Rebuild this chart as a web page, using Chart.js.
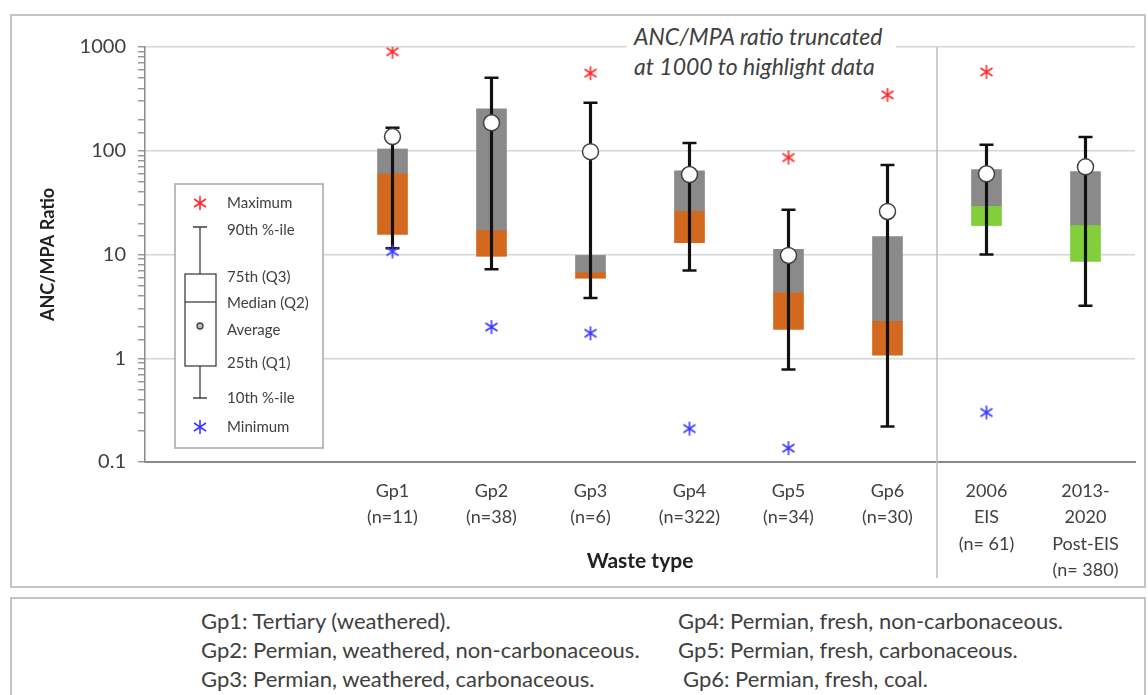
<!DOCTYPE html>
<html>
<head>
<meta charset="utf-8">
<script src="https://cdn.jsdelivr.net/npm/chart.js@4.4.1/dist/chart.umd.min.js"></script>
<style>
  body { margin: 0; background: #fff; font-family: Lato, "Open Sans", sans-serif; color: #404040; }
  #frame { position: absolute; left: 10px; top: 14px; width: 1136px; height: 574px; border: 2px solid #c4c4c4; box-sizing: border-box; }
  #myChart { position: absolute; left: 0; top: 0; }
  #note { position: absolute; left: 627px; top: 21px; width: 262px; background: #fff; font-style: italic; font-size: 23px; line-height: 30px; padding-left: 7px; white-space: nowrap; }
  #groups { position: absolute; left: 10px; top: 597px; width: 1136px; height: 120px; border: 2px solid #c4c4c4; box-sizing: border-box; }
  .g { position: absolute; font-size: 22px; line-height: 29px; white-space: nowrap; }
</style>
</head>
<body>
<div id="frame"></div>
<canvas id="myChart" width="1148" height="590"></canvas>
<div id="note">ANC/MPA ratio truncated<br>at 1000 to highlight data</div>
<div id="groups">
  <div class="g" style="left:189px;top:7px">Gp1: Tertiary (weathered).</div>
  <div class="g" style="left:189px;top:36px">Gp2: Permian, weathered, non-carbonaceous.</div>
  <div class="g" style="left:189px;top:65px">Gp3: Permian, weathered, carbonaceous.</div>
  <div class="g" style="left:666px;top:7px">Gp4: Permian, fresh, non-carbonaceous.</div>
  <div class="g" style="left:666px;top:36px">Gp5: Permian, fresh, carbonaceous.</div>
  <div class="g" style="left:671px;top:65px">Gp6: Permian, fresh, coal.</div>
</div>
<script>
// categories (first two are empty, the key box sits there)
const labels = [[''], [''], ['Gp1', '(n=11)'], ['Gp2', '(n=38)'], ['Gp3', '(n=6)'], ['Gp4', '(n=322)'],
    ['Gp5', '(n=34)'], ['Gp6', '(n=30)'], ['2006', 'EIS', '(n= 61)'], ['2013-', '2020', 'Post-EIS', '(n= 380)']];

const p10     = [null, null, 11.5, 7.2, 3.8, 7.0, 0.78, 0.22, 10, 3.2];
const q1      = [null, null, 15.6, 9.6, 5.9, 13, 1.9, 1.07, 19, 8.6];
const median  = [null, null, 60, 17, 6.7, 26, 4.3, 2.27, 29, 19];
const q3      = [null, null, 104, 253, 9.8, 64, 11.2, 14.9, 66, 63];
const p90     = [null, null, 167, 505, 290, 119, 27, 73, 114, 136];
const average = [null, null, 137, 186, 98, 59, 9.8, 26, 60, 70];
const maximum = [null, null, 900, null, 560, null, 86, 346, 575, null];
const minimum = [null, null, 10.7, 2.0, 1.74, 0.21, 0.136, null, 0.30, null];

const yTicks = [0.1, 1, 10, 100, 1000];

const ORANGE = '#d2691f';
const GREEN = '#82cf3c';
const GREY = '#8a8a8a';
const lowerColors = labels.map((l, i) => i >= 8 ? GREEN : ORANGE);

const txt = '#404040';
const fontFam = 'Lato, "Open Sans", sans-serif';

// excel style asterisk marker
function star(color) {
    const c = document.createElement('canvas');
    c.width = 16; c.height = 16;
    const g = c.getContext('2d');
    g.strokeStyle = color;
    g.lineWidth = 1.6;
    g.beginPath();
    g.moveTo(8, 1); g.lineTo(8, 15);
    g.moveTo(2, 4); g.lineTo(14, 12);
    g.moveTo(2, 12); g.lineTo(14, 4);
    g.stroke();
    return c;
}
const redStar = star('#ff2a2a');
const blueStar = star('#3a3aff');

const isMajor = v => yTicks.some(t => Math.abs(t - v) < 1e-9 * t);

const range = (a, b) => a.map((v, i) => v == null ? null : [v, b[i]]);

const extras = {
    id: 'extras',
    afterDraw(chart) {
        const {ctx, chartArea, scales} = chart;
        const x = scales.x;
        // separator between waste groups and EIS data
        const sx = (x.getPixelForValue(7) + x.getPixelForValue(8)) / 2;
        ctx.save();
        ctx.strokeStyle = '#bdbdbd';
        ctx.lineWidth = 1.5;
        ctx.beginPath();
        ctx.moveTo(sx, chartArea.top);
        ctx.lineTo(sx, 578);
        ctx.stroke();

        // key box
        const L = chartArea.left + 30, T = 184;
        ctx.fillStyle = '#fff';
        ctx.fillRect(L, T, 148, 264);
        ctx.strokeStyle = '#a6a6a6';
        ctx.lineWidth = 1.5;
        ctx.strokeRect(L, T, 148, 264);

        const cx = L + 25;
        ctx.drawImage(redStar, cx - 8, T + 11);
        ctx.drawImage(blueStar, cx - 8, T + 235);
        ctx.strokeStyle = '#404040';
        ctx.lineWidth = 1.3;
        ctx.beginPath();
        ctx.moveTo(cx - 7, T + 43); ctx.lineTo(cx + 7, T + 43);
        ctx.moveTo(cx, T + 43); ctx.lineTo(cx, T + 90);
        ctx.moveTo(cx, T + 182); ctx.lineTo(cx, T + 214);
        ctx.moveTo(cx - 7, T + 214); ctx.lineTo(cx + 7, T + 214);
        ctx.stroke();
        ctx.strokeRect(cx - 15, T + 90, 31, 92);
        ctx.beginPath();
        ctx.moveTo(cx - 15, T + 118); ctx.lineTo(cx + 16, T + 118);
        ctx.stroke();
        ctx.fillStyle = '#bbb';
        ctx.beginPath();
        ctx.arc(cx, T + 142, 3, 0, Math.PI * 2);
        ctx.fill();
        ctx.stroke();

        ctx.fillStyle = txt;
        ctx.font = '15px ' + fontFam;
        ctx.textBaseline = 'middle';
        const tx = L + 52;
        [['Maximum', 19], ['90th %-ile', 46], ['75th (Q3)', 93], ['Median (Q2)', 119],
         ['Average', 146], ['25th (Q1)', 179], ['10th %-ile', 214], ['Minimum', 243]]
            .forEach(([t, dy]) => ctx.fillText(t, tx, T + dy));
        ctx.restore();
    }
};

const ctx = document.getElementById('myChart').getContext('2d');

const myChart = new Chart(ctx, {
    type: 'bar',
    data: {
        labels: labels,
        datasets: [
            {
                label: 'Average',
                type: 'line',
                data: average,
                showLine: false,
                pointRadius: 8,
                pointBackgroundColor: '#fff',
                pointBorderColor: '#404040',
                pointBorderWidth: 1.5,
                order: 1
            },
            {
                label: 'Maximum',
                type: 'line',
                data: maximum,
                showLine: false,
                pointStyle: redStar,
                order: 2
            },
            {
                label: 'Minimum',
                type: 'line',
                data: minimum,
                showLine: false,
                pointStyle: blueStar,
                order: 2
            },
            {
                label: '90th',
                type: 'line',
                data: p90,
                showLine: false,
                pointStyle: 'line',
                pointRadius: 7,
                pointBorderColor: '#111',
                pointBorderWidth: 2.5,
                order: 3
            },
            {
                label: '10th',
                type: 'line',
                data: p10,
                showLine: false,
                pointStyle: 'line',
                pointRadius: 7,
                pointBorderColor: '#111',
                pointBorderWidth: 2.5,
                order: 3
            },
            {
                label: 'whisker',
                data: range(p10, p90),
                backgroundColor: '#111',
                barThickness: 2.5,
                grouped: false,
                order: 4
            },
            {
                label: 'Q1-Q2',
                data: range(q1, median),
                backgroundColor: lowerColors,
                barThickness: 30,
                grouped: false,
                order: 5
            },
            {
                label: 'Q2-Q3',
                data: range(median, q3),
                backgroundColor: GREY,
                barThickness: 30,
                grouped: false,
                order: 5
            }
        ]
    },
    options: {
        responsive: false,
        animation: false,
        layout: { padding: { top: 47, right: 13, left: 0, bottom: 0 } },
        plugins: {
            legend: { display: false },
            tooltip: { enabled: false }
        },
        scales: {
            x: {
                afterFit: s => { s.height = 128; },
                grid: { drawOnChartArea: false, drawTicks: false },
                border: { color: '#8a8a8a', width: 2 },
                ticks: {
                    color: txt,
                    padding: 16,
                    autoSkip: false,
                    maxRotation: 0,
                    font: { family: fontFam, size: 18, lineHeight: 1.46 }
                },
                title: {
                    display: true,
                    text: 'Waste type',
                    color: '#222',
                    padding: { top: 0, bottom: 16 },
                    font: { family: fontFam, size: 21, weight: 'bold' }
                }
            },
            y: {
                type: 'logarithmic',
                min: 0.1,
                max: 1000,
                afterFit: s => { s.width = 145; },
                border: { color: '#8a8a8a', width: 1.5 },
                grid: {
                    color: c => isMajor(c.tick.value) ? '#d6d6d6' : 'rgba(0,0,0,0)',
                    lineWidth: 1.5,
                    tickColor: '#8a8a8a',
                    tickLength: 7,
                    tickWidth: 1.3
                },
                ticks: {
                    color: txt,
                    padding: 12,
                    autoSkip: false,
                    font: { family: fontFam, size: 20 },
                    callback: v => isMajor(v) ? String(v) : ''
                },
                title: {
                    display: true,
                    text: 'ANC/MPA Ratio',
                    color: '#222',
                    padding: { top: 37, bottom: 0 },
                    font: { family: fontFam, size: 18, weight: 'bold' }
                }
            }
        }
    },
    plugins: [extras]
});
</script>
</body>
</html>
